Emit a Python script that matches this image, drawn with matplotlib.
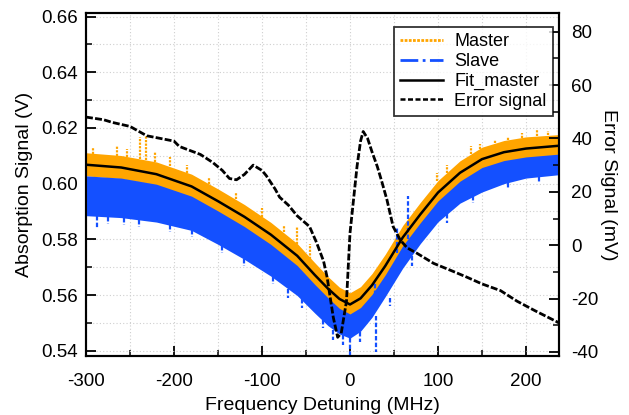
import matplotlib
matplotlib.use("Agg")
import matplotlib.pyplot as plt
from matplotlib.lines import Line2D
from matplotlib.ticker import MultipleLocator, FixedLocator

plt.rcParams['font.family'] = ['Liberation Sans', 'DejaVu Sans']

# ---------------- data ----------------
freq = [-300, -260, -220, -180, -150, -120, -90, -60, -40, -25, -12, 0,
        12, 25, 40, 60, 80, 100, 125, 150, 175, 200, 237]
fit_master = [.6068, .6058, .6034, .5990, .5937, .5881, .5817, .5741, .5672, .5623, .5586, .5566,
              .5588, .5635, .5704, .5807, .5890, .5968, .6039, .6088, .6113, .6126, .6136]
master_hi = [.6111, .6101, .6078, .6034, .5981, .5925, .5861, .5785, .5716, .5666, .5628, .5608,
             .5630, .5677, .5746, .5850, .5933, .6011, .6082, .6131, .6155, .6168, .6176]
master_lo = [.6028, .6018, .5995, .5951, .5898, .5842, .5778, .5702, .5634, .5585, .5548, .5528,
             .5550, .5597, .5666, .5770, .5853, .5931, .6002, .6051, .6075, .6090, .6100]
slave_hi = [.6028, .6020, .5998, .5955, .5902, .5846, .5782, .5706, .5638, .5590, .5552, .5532,
            .5555, .5602, .5672, .5777, .5860, .5938, .6009, .6058, .6083, .6096, .6106]
slave_lo = [.5885, .5878, .5862, .5832, .5782, .5728, .5668, .5598, .5535, .5490, .5460, .5445,
            .5470, .5520, .5594, .5697, .5785, .5863, .5930, .5970, .6000, .6020, .6032]

# noise spikes: x, base, tip
master_spike_x = [-292, -265, -253, -239, -232, -222, -205, -185, -160, -130, -100, -75, -60, -45,
                  99, 110, 137, 148, 165, 179, 195, 213, 225, -222, -240]
master_spike_base = [.6105, .6098, .6094, .6088, .6085, .6078, .6065, .6040, .6000, .5945, .5880, .5825, .5785, .5730,
                     .6008, .6040, .6105, .6125, .6145, .6157, .6165, .6170, .6173, .5995, .6005]
master_spike_tip = [.6128, .6135, .6124, .6168, .6172, .6113, .6095, .6068, .6020, .5970, .5912, .5852, .5846, .5783,
                    .6040, .6068, .6134, .6141, .6157, .6166, .6181, .6195, .6188, .5903, .5932]

slave_spike_x = [-287, -275, -257, -240, -205, -180, -145, -120, -88, -70, -55, -31, -19, -8, 0, 11, 29,
                 45, 70, 110, 140, 180, 215, 28, 53, 66]
slave_spike_base = [.5885, .5880, .5876, .5870, .5850, .5832, .5775, .5728, .5663, .5620, .5585, .5510, .5475, .5455,
                    .5445, .5468, .5525, .5590, .5740, .5890, .5955, .6004, .6025, .5600, .5750, .5800]
slave_spike_tip = [.5842, .5856, .5850, .5845, .5826, .5810, .5752, .5705, .5640, .5590, .5555, .5480, .5440, .5420,
                   .5385, .5430, .5395, .5560, .5705, .5860, .5930, .5980, .6005, .5645, .5846, .5955]

err_freq = [-300, -280, -270, -250, -231, -200, -194, -170, -156, -145, -137, -129, -120, -110, -100, -95,
            -85, -80, -70, -60, -46, -38, -30, -26, -19, -14, -10, -4, 0, 8, 12, 15, 20, 25, 31, 36,
            42, 49, 57, 65, 76, 95, 115, 133, 150, 171, 190, 210, 237]
err_mv = [48, 47, 46, 44.5, 41, 39, 37, 34, 31, 28, 25, 24.5, 26.5, 30, 28, 26,
          21, 18, 15, 11, 7, 1, -6, -12, -27, -34.5, -33, -21, 4.5, 29.5, 39, 42.6, 40, 35, 29.5, 24,
          17, 7, 2, -1, -3, -6.8, -9.5, -12, -14.5, -17, -21, -24.5, -29]

x_ticks = [-300, -200, -100, 0, 100, 200]
left_ticks = [0.54, 0.56, 0.58, 0.60, 0.62, 0.64, 0.66]
right_ticks = [-40, -20, 0, 20, 40, 60, 80]

ORANGE = '#FFA500'
BLUE = '#1450FF'

# ---------------- figure ----------------
fig = plt.figure(figsize=(6.29, 4.15), dpi=100)
ax1 = fig.add_axes([0.1367, 0.1422, 0.752, 0.8272])
ax2 = ax1.twinx()

ax1.fill_between(freq, master_lo, master_hi, color=ORANGE, lw=0, zorder=2)
ax1.vlines(master_spike_x, master_spike_base, master_spike_tip, color=ORANGE, lw=1.6,
           linestyles=(0, (1, 0.6)), zorder=2)
ax1.fill_between(freq, slave_lo, slave_hi, color=BLUE, lw=0, zorder=3)
ax1.vlines(slave_spike_x, slave_spike_base, slave_spike_tip, color=BLUE, lw=1.6,
           linestyles=(0, (2, 1)), zorder=3)
ax1.plot(freq, fit_master, color='black', lw=1.8, zorder=4)

ax2.plot(err_freq, err_mv, color='black', lw=2.0, dashes=(2.5, 0.8))

ax1.set_xlim(-300, 237.5)
ax1.set_ylim(0.5381, 0.6614)
ax2.set_ylim(-41.5, 87.1)

ax1.xaxis.set_major_locator(FixedLocator(x_ticks))
ax1.set_xticklabels([str(v) for v in x_ticks])
ax1.xaxis.set_minor_locator(MultipleLocator(50))
ax1.yaxis.set_major_locator(FixedLocator(left_ticks))
ax1.set_yticklabels([f"{v:.2f}" for v in left_ticks])
ax1.yaxis.set_minor_locator(MultipleLocator(0.01))
ax2.yaxis.set_major_locator(FixedLocator(right_ticks))
ax2.set_yticklabels([str(v) for v in right_ticks])
ax2.yaxis.set_minor_locator(MultipleLocator(10))

ax1.grid(which='both', ls=(0, (1, 2)), color='#cfcfcf', lw=0.8)
ax1.set_axisbelow(True)

for ax in (ax1, ax2):
    for s in ax.spines.values():
        s.set_linewidth(1.5)
    ax.tick_params(which='major', direction='in', length=7, width=1.3, labelsize=13.5)
    ax.tick_params(which='minor', direction='in', length=4, width=1.1)
ax1.tick_params(axis='y', right=False, which='both', pad=6)
ax1.tick_params(axis='x', top=False, which='both', pad=12)
ax2.tick_params(axis='y', pad=9)

ax1.set_xlabel('Frequency Detuning (MHz)', fontsize=14, labelpad=5)
ax1.set_ylabel('Absorption Signal (V)', fontsize=14, labelpad=6)
ax2.set_ylabel('Error Signal (mV)', fontsize=14, rotation=270, labelpad=13)

handles = [
    Line2D([], [], color=ORANGE, lw=2, linestyle=(0, (1, 0.5))),
    Line2D([], [], color=BLUE, lw=2, linestyle='-.'),
    Line2D([], [], color='black', lw=1.8),
    Line2D([], [], color='black', lw=1.8, dashes=(2, 1)),
]
labels = ['Master', 'Slave', 'Fit_master', 'Error signal']
leg = ax2.legend(handles, labels, loc='upper right', bbox_to_anchor=(0.987, 0.958),
                 borderaxespad=0, fontsize=13, frameon=True, fancybox=False,
                 handlelength=2.4, handletextpad=0.6, labelspacing=0.15, borderpad=0.35)
leg.get_frame().set_edgecolor('black')
leg.get_frame().set_linewidth(1.3)

fig.savefig('out.png', dpi=100)
